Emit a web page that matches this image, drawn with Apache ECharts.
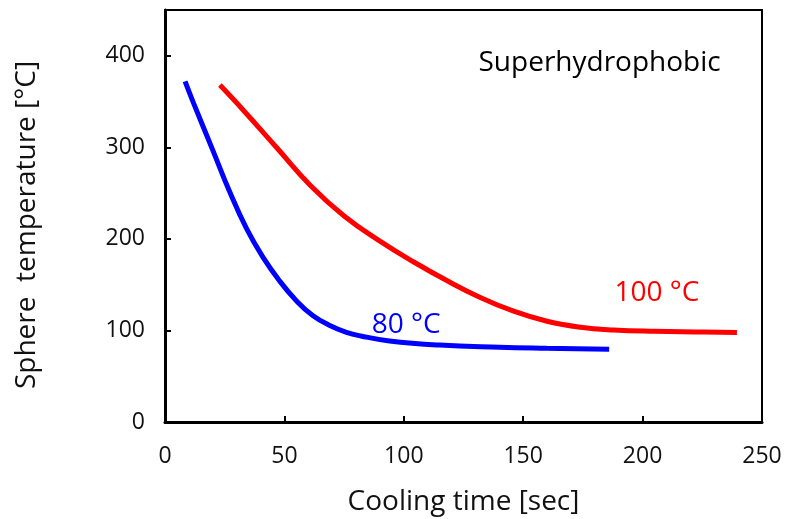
<!DOCTYPE html>
<html>
<head>
<meta charset="utf-8">
<script src="https://cdn.jsdelivr.net/npm/echarts@6/dist/echarts.min.js"></script>
<style>
  html, body { margin: 0; padding: 0; background: #fff; }
  #chart { width: 786px; height: 519px; }
</style>
</head>
<body>
<div id="chart"></div>
<script>
// 曲线数据 [时间 sec, 温度 °C]
var blue80 = [
    [8.4, 372], [12, 348], [20, 297], [27, 252], [34, 212], [41, 180],
    [48, 154], [55, 132.5], [62, 116], [69, 105.5], [76, 98], [82, 94],
    [94, 88.5], [115, 84], [140, 81.7], [160, 80.6], [186, 79.5]
];
var red100 = [
    [23, 368], [33, 340], [47, 299], [61, 258], [75, 225], [90, 197.5],
    [104, 175], [118, 154.5], [132, 136], [146, 121], [160, 110], [174, 103.5],
    [188, 100.5], [205, 99], [222, 98.3], [239.5, 97.8]
];

// 图中文字标注
var noteText = ['80 °C', '100 °C', 'Superhydrophobic'];
var notePos = [[101, 106], [206, 141], [182, 392]];
var noteColor = ['#0000ff', '#ff0000', '#000000'];

var font = 'Open Sans';

var chart = echarts.init(document.getElementById('chart'));

var notes = noteText.map(function (t, i) {
    return {
        value: notePos[i],
        label: { show: true, formatter: t, color: noteColor[i], position: 'inside' }
    };
});

var option = {
    animation: false,
    grid: {
        left: 165, right: 24, top: 10, bottom: 97,
        outerBoundsMode: 'none',
        show: true, borderColor: '#000', borderWidth: 2
    },
    xAxis: {
        type: 'value',
        min: 0, max: 250, interval: 50,
        name: 'Cooling time [sec]',
        nameLocation: 'middle',
        nameGap: 66,
        nameTextStyle: { fontFamily: font, fontSize: 28, color: '#111' },
        axisLine: { show: true, lineStyle: { color: '#000', width: 3 } },
        axisTick: { show: true, inside: true, length: 6, lineStyle: { color: '#000', width: 2 } },
        axisLabel: { fontFamily: font, fontSize: 23, color: '#111', margin: 23 },
        splitLine: { show: false }
    },
    yAxis: {
        type: 'value',
        min: 0, max: 450, interval: 100,
        name: 'Sphere  temperature [°C]',
        nameLocation: 'middle',
        nameGap: 124,
        nameRotate: 90,
        nameTextStyle: { fontFamily: font, fontSize: 28, color: '#111', padding: [0, 18, 0, 0] },
        axisLine: { show: true, lineStyle: { color: '#000', width: 3 } },
        axisTick: { show: true, inside: true, length: 6, lineStyle: { color: '#000', width: 2 } },
        axisLabel: { fontFamily: font, fontSize: 23, color: '#111', margin: 20, showMaxLabel: false },
        splitLine: { show: false }
    },
    series: [
        {
            name: '80 °C',
            type: 'line',
            data: blue80,
            smooth: 0.45,
            showSymbol: false,
            lineStyle: { color: '#0000ff', width: 5 }
        },
        {
            name: '100 °C',
            type: 'line',
            data: red100,
            smooth: 0.45,
            showSymbol: false,
            lineStyle: { color: '#ff0000', width: 5 }
        },
        {
            type: 'scatter',
            symbolSize: 0,
            data: notes,
            itemStyle: { opacity: 1 },
            label: { fontFamily: font, fontSize: 28, opacity: 1 },
            silent: true
        }
    ]
};

chart.setOption(option);
</script>
</body>
</html>
